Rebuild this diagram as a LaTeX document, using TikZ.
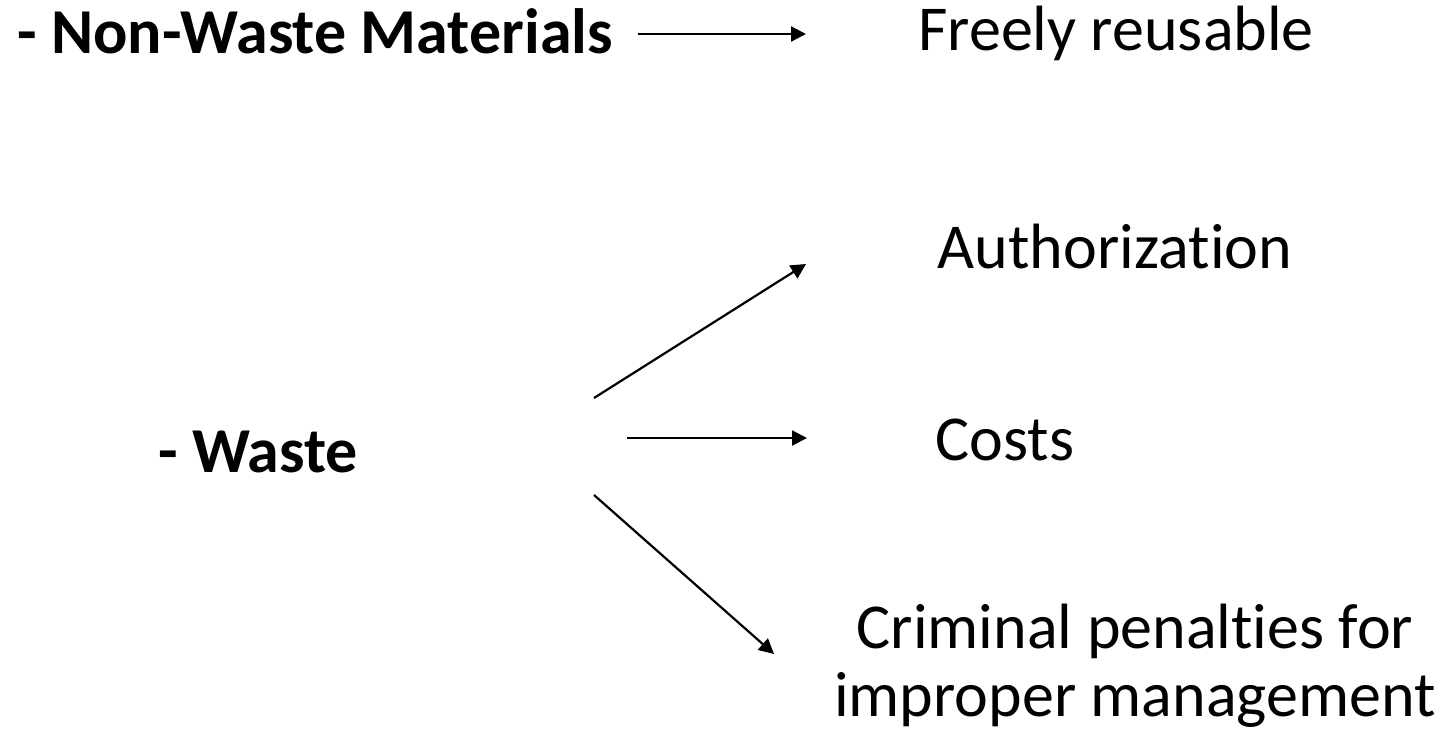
\documentclass[tikz,border=0pt]{standalone}
\usepackage{fontspec}
\setmainfont{Carlito}[Ligatures=NoCommon]
\usetikzlibrary{arrows.meta}
\begin{document}
\begin{tikzpicture}[x=1pt,y=-1pt,
  lbl/.style={inner sep=0pt,anchor=base,font=\fontsize{64}{68}\selectfont},
  blbl/.style={lbl,font=\fontsize{64}{68}\selectfont\bfseries},
  arr/.style={line width=2.2pt,-{Triangle[length=15pt,width=15pt]}}]
\useasboundingbox (0,0) rectangle (1454,731);
\node[blbl] (nw) at (315,53) {- Non-Waste Materials};
\node[lbl] (fr) at (1116,50) {Freely reusable};
\node[lbl] (au) at (1115,268) {Authorization};
\node[lbl] (co) at (1005,460) {Costs};
\node[blbl] (w) at (258,472) {- Waste};
\node[lbl,align=center] (cr) at (1135,716) {Criminal penalties for\\improper management};
\coordinate (a1s) at (638,34); \coordinate (a1e) at (806,34);
\coordinate (a2s) at (594,398); \coordinate (a2e) at (806,264);
\coordinate (a3s) at (627,438); \coordinate (a3e) at (807,438);
\coordinate (a4s) at (594,495); \coordinate (a4e) at (774,654);
\draw[arr] (a1s) -- (a1e);
\draw[arr] (a2s) -- (a2e);
\draw[arr] (a3s) -- (a3e);
\draw[arr] (a4s) -- (a4e);
\end{tikzpicture}
\end{document}
